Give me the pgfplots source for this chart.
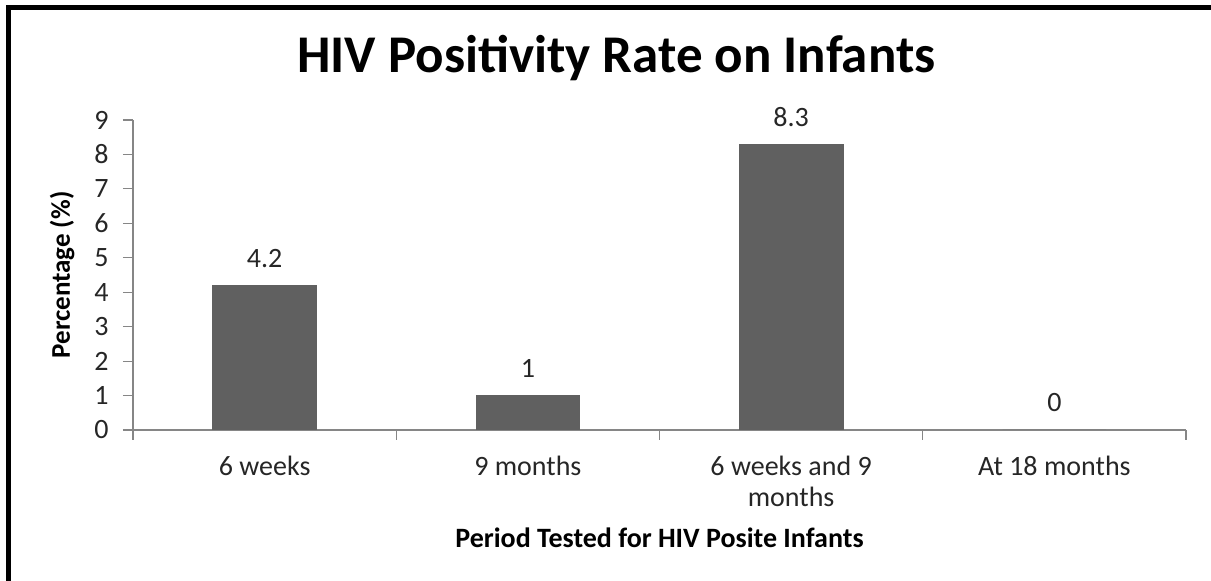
\documentclass[border=0pt]{standalone}
\usepackage{fontspec}
\setmainfont{Carlito}
\usepackage{pgfplots}
\pgfplotsset{compat=1.18}
\definecolor{bargray}{HTML}{606060}
\definecolor{axisgray}{HTML}{868686}
\definecolor{txt}{HTML}{262626}
\begin{document}
\begin{tikzpicture}
\path[use as bounding box] (0,0) rectangle (605.5pt,-290.5pt);
\draw[line width=2.5pt, black] (4.25pt,-290.5pt) -- (4.25pt,-3.6pt) -- (605.5pt,-3.6pt);
\begin{axis}[
  at={(66.5pt,-215pt)}, anchor=south west,
  scale only axis, width=526.5pt, height=155pt,
  xmin=-0.5, xmax=3.5, ymin=0, ymax=9,
  axis x line=bottom, axis y line=left,
  axis line style={draw=axisgray, line width=0.6pt, -},
  tick align=outside,
  major tick length=5pt,
  tick style={draw=axisgray, line width=0.6pt},
  xtick={-0.5,0.5,1.5,2.5,3.5},
  xticklabels={},
  extra x ticks={0,1,2,3},
  extra x tick labels={6 weeks, 9 months, {\begin{tabular}[t]{@{}c@{}}6 weeks and 9\\months\end{tabular}}, At 18 months},
  extra x tick style={xtick style={draw=none}},
  ytick={0,1,...,9},
  /pgf/number format/assume math mode=true,
  tick label style={font=\fontsize{14}{15.5}\selectfont, text=txt},
  xticklabel style={anchor=base, inner sep=0pt, yshift=-18pt},
  yticklabel style={anchor=east, inner sep=0pt, xshift=-7pt},
  ylabel={Percentage (\%)},
  ylabel style={at={(axis description cs:-0.06,0.5)}, anchor=base, font=\bfseries\fontsize{13.5}{16}\selectfont},
  xlabel={Period Tested for HIV Posite Infants},
  xlabel style={at={(axis description cs:0.5,-0.38)}, anchor=base, font=\bfseries\fontsize{14}{16}\selectfont},
  title={HIV Positivity Rate on Infants},
  title style={at={(axis description cs:0.459,1.155)}, anchor=base, yshift=-6.5pt, font=\bfseries\fontsize{26.5}{30}\selectfont},
  ybar, bar width=51.8pt,
  nodes near coords,
  every node near coord/.append style={inner sep=0pt, yshift=9pt, anchor=base, font=\fontsize{14}{16}\selectfont, text=txt},
]
\addplot[fill=bargray, draw=bargray] coordinates {(0,4.2) (1,1) (2,8.3) (3,0)};
\end{axis}
\end{tikzpicture}
\end{document}
